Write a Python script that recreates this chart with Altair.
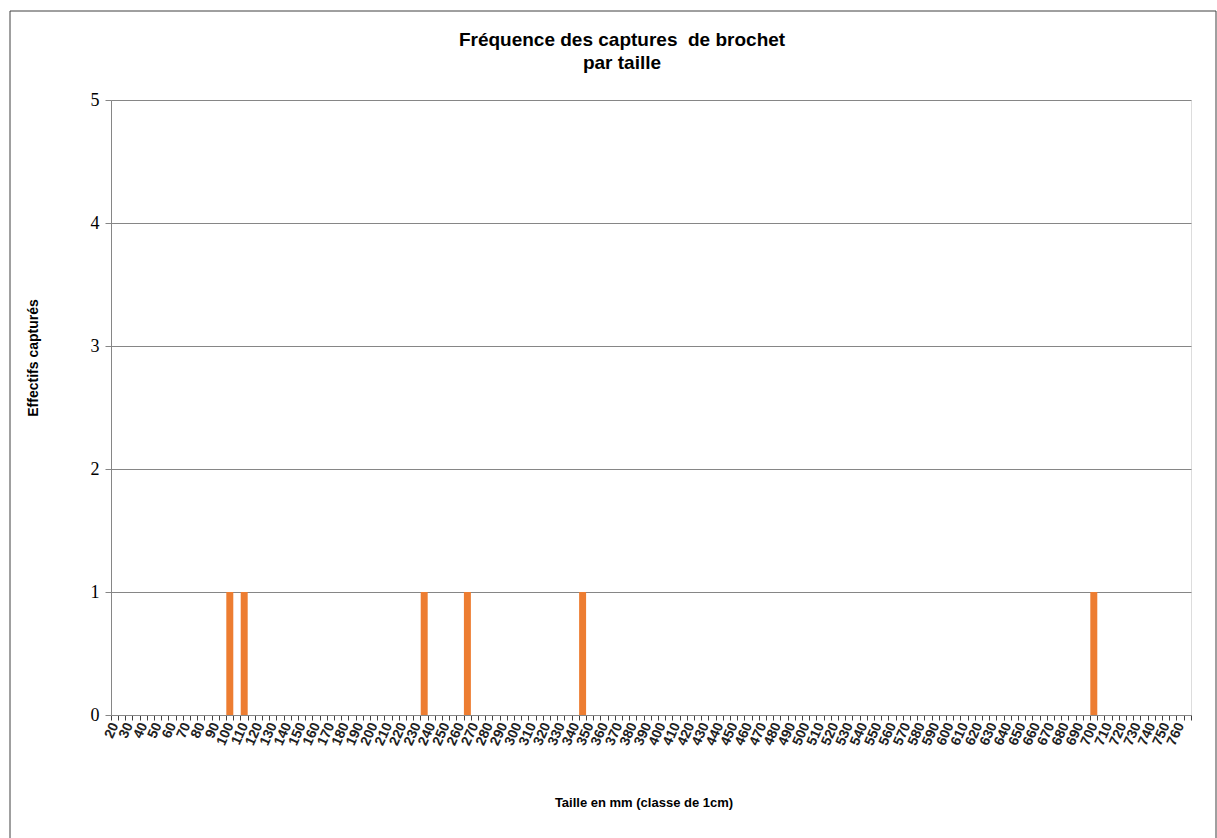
import altair as alt
import pandas as pd

# Size classes (mm) on the category axis
classes = list(range(20, 770, 5))
# Observed captures
capture_sizes = [100, 110, 235, 265, 345, 700]
capture_counts = [1, 1, 1, 1, 1, 1]

title_line1 = "Fréquence des captures \u00a0de brochet"
title_line2 = "par taille"
x_title = "Taille en mm (classe de 1cm)"
y_title = "Effectifs capturés"
y_ticks = [0, 1, 2, 3, 4, 5]

counts = {s: c for s, c in zip(capture_sizes, capture_counts)}
df = pd.DataFrame({"taille": classes, "n": [counts.get(c, 0) for c in classes]})

W, H = 1080, 615
PL, PT = 111, 100

bars = alt.Chart(df).mark_bar(color="#ED7D31").encode(
    x=alt.X("taille:O", sort=classes,
            scale=alt.Scale(paddingInner=0.03, paddingOuter=0.015),
            axis=alt.Axis(title=None, labelAngle=294, labelFont="Liberation Sans",
                          labelFontWeight="bold", labelFontSize=14, labelColor="#222222",
                          labelOverlap=False, labelPadding=3, tickBand="extent",
                          tickSize=5, tickColor="#404040", domainColor="#868686",
                          labelExpr="datum.value % 10 == 0 ? datum.label : ''")),
    y=alt.Y("n:Q", scale=alt.Scale(domain=[0, 5], nice=False),
            axis=alt.Axis(title=None, values=y_ticks, format="d", grid=True,
                          gridColor="#868686", gridWidth=1, labelFont="Liberation Serif",
                          labelFontSize=18, labelColor="#000000", labelPadding=6,
                          tickSize=6, tickColor="#868686", domainColor="#868686")),
)

def txt(s, x, y, size, angle=0):
    return alt.Chart(pd.DataFrame({"t": [s]})).mark_text(
        font="Liberation Sans", fontWeight="bold", fontSize=size, color="#000000",
        align="center", baseline="middle", angle=angle,
    ).encode(text="t:N", x=alt.value(x), y=alt.value(y))

border = alt.Chart(pd.DataFrame({"t": [0]})).mark_rect(
    fill=None, stroke="#404040", strokeWidth=1
).encode(x=alt.value(10 - PL), x2=alt.value(1216 - PL),
         y=alt.value(11 - PT), y2=alt.value(860 - PT))

chart = alt.layer(
    border,
    bars,
    txt(title_line1, 622 - PL, 40 - PT, 19),
    txt(title_line2, 622 - PL, 63 - PT, 19),
    txt(x_title, 644 - PL, 803 - PT, 13),
    txt(y_title, 34 - PL, 358 - PT, 14, angle=270),
).properties(
    width=W, height=H,
    autosize=alt.AutoSizeParams(type="none"),
    padding={"left": PL, "top": PT, "right": 1217 - PL - W, "bottom": 838 - PT - H},
).configure_view(stroke="#868686", strokeWidth=1).configure(background="white")

chart.save("out.html", embed_options={"renderer": "svg", "actions": False})
